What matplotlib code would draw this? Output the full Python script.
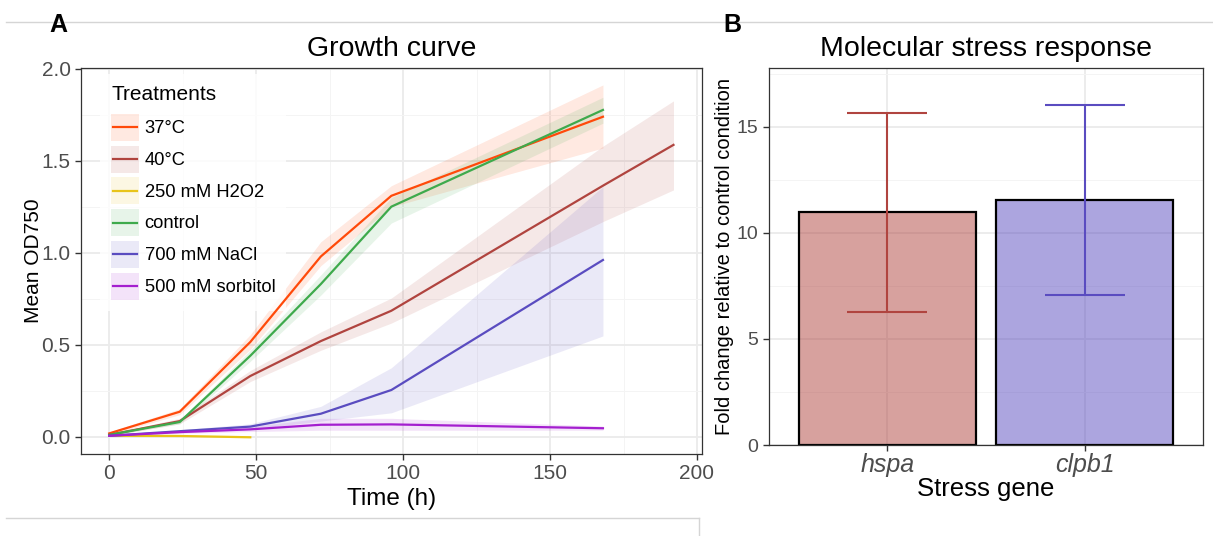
import matplotlib
matplotlib.use('Agg')
import matplotlib.pyplot as plt
from matplotlib.lines import Line2D
from matplotlib.patches import Rectangle
import numpy as np

plt.rcParams['font.family'] = ['Liberation Sans', 'DejaVu Sans']

# growth curve data (mean OD750 and ribbon bounds)
time_main = [0, 24, 48, 72, 96, 168]
time_40 = [0, 24, 48, 72, 96, 168, 192]
time_h2o2 = [0, 24, 48]

od_37 = [0.018, 0.136, 0.515, 0.98, 1.31, 1.74]
od_37_lo = [0.010, 0.120, 0.475, 0.93, 1.25, 1.57]
od_37_hi = [0.026, 0.152, 0.555, 1.06, 1.365, 1.913]

od_40 = [0.010, 0.085, 0.33, 0.52, 0.685, 1.365, 1.587]
od_40_lo = [0.005, 0.070, 0.30, 0.47, 0.618, 1.17, 1.342]
od_40_hi = [0.015, 0.100, 0.36, 0.57, 0.754, 1.58, 1.826]

od_h2o2 = [0.005, 0.004, -0.003]
od_h2o2_lo = [0.002, 0.001, -0.006]
od_h2o2_hi = [0.008, 0.007, 0.000]

od_ctrl = [0.010, 0.08, 0.44, 0.83, 1.251, 1.777]
od_ctrl_lo = [0.005, 0.07, 0.41, 0.77, 1.162, 1.705]
od_ctrl_hi = [0.015, 0.09, 0.47, 0.88, 1.30, 1.846]

od_nacl = [0.005, 0.03, 0.055, 0.125, 0.254, 0.961]
od_nacl_lo = [0.002, 0.022, 0.040, 0.085, 0.13, 0.548]
od_nacl_hi = [0.008, 0.038, 0.070, 0.165, 0.375, 1.36]

od_sorb = [0.005, 0.025, 0.04, 0.065, 0.067, 0.046]
od_sorb_lo = [0.002, 0.018, 0.028, 0.035, 0.035, 0.035]
od_sorb_hi = [0.008, 0.032, 0.055, 0.10, 0.10, 0.058]

treatments = ['37°C', '40°C', '250 mM H2O2', 'control', '700 mM NaCl', '500 mM sorbitol']
colors = ['#FF4A0A', '#B0443F', '#E8C41A', '#3EAA4C', '#5A4CC0', '#A41FCF']

# qPCR data
genes = ['hspa', 'clpb1']
fold_change = [11.0, 11.56]
fold_lo = [6.27, 7.09]
fold_hi = [15.67, 16.02]
gene_colors = ['#B0443F', '#5A4CC0']

W, H = 1213, 536
fig = plt.figure(figsize=(W / 100, H / 100), dpi=100)

grid_major = '#EBEBEB'
grid_minor = '#F4F4F4'
tick_col = '#4D4D4D'


def style_axes(ax):
    for sp in ax.spines.values():
        sp.set_color('#333333')
        sp.set_linewidth(0.9)
    ax.set_axisbelow(True)
    ax.grid(True, which='major', color=grid_major, lw=1.3)
    ax.grid(True, which='minor', color=grid_minor, lw=0.7)
    ax.tick_params(which='major', direction='out', length=4, width=1.0,
                   color='#333333', labelcolor=tick_col)
    ax.tick_params(which='minor', length=0)


class KeyHandler:
    # ggplot-like key: ribbon-coloured square with the line through its middle
    def legend_artist(self, legend, orig_handle, fontsize, handlebox):
        x0, y0 = handlebox.xdescent, handlebox.ydescent
        w, h = handlebox.width, handlebox.height
        c = orig_handle.get_color()
        tr = handlebox.get_transform()
        rect = Rectangle((-x0, -y0), w, h, facecolor=c, alpha=0.12,
                         edgecolor='none', transform=tr)
        line = Line2D([-x0 + 1.5, -x0 + w - 1.5], [-y0 + h / 2] * 2, color=c,
                      lw=1.6, transform=tr)
        handlebox.add_artist(rect)
        handlebox.add_artist(line)
        return rect


# ---- panel A
axA = fig.add_axes([81 / W, 1 - 454 / H, (701.7 - 81) / W, (454 - 68) / H])
style_axes(axA)

series = [
    (time_main, od_37, od_37_lo, od_37_hi),
    (time_40, od_40, od_40_lo, od_40_hi),
    (time_h2o2, od_h2o2, od_h2o2_lo, od_h2o2_hi),
    (time_main, od_ctrl, od_ctrl_lo, od_ctrl_hi),
    (time_main, od_nacl, od_nacl_lo, od_nacl_hi),
    (time_main, od_sorb, od_sorb_lo, od_sorb_hi),
]
handles = []
for (t, m, lo, hi), c, name in zip(series, colors, treatments):
    axA.fill_between(t, lo, hi, color=c, alpha=0.12, lw=0, zorder=1)
    ln, = axA.plot(t, m, color=c, lw=1.6, zorder=3)
    handles.append(ln)

axA.set_xlim(-9.6, 201.6)
axA.set_ylim(-0.094, 2.005)
axA.set_xticks([0, 50, 100, 150, 200])
axA.set_xticks([25, 75, 125, 175], minor=True)
axA.set_yticks([0.0, 0.5, 1.0, 1.5, 2.0])
axA.set_yticks([0.25, 0.75, 1.25, 1.75], minor=True)
axA.set_yticklabels(['0.0', '0.5', '1.0', '1.5', '2.0'])
axA.tick_params(labelsize=15)
axA.set_xlabel('Time (h)', fontsize=17.5, labelpad=3)
axA.set_ylabel('Mean OD750', fontsize=15, labelpad=-1.5)
axA.set_title('Growth curve', fontsize=20.5, pad=9)

leg = axA.legend(handles, treatments, title='Treatments', loc='upper left',
                 bbox_to_anchor=(100 / W, 1 - 74 / H), bbox_transform=fig.transFigure,
                 handler_map={Line2D: KeyHandler()},
                 fontsize=13.2, title_fontsize=15, frameon=True, fancybox=False,
                 handlelength=1.53, handleheight=1.89, labelspacing=0.26,
                 handletextpad=0.3, borderpad=0.6, borderaxespad=0, alignment='left')
leg.get_frame().set_facecolor('white')
leg.get_frame().set_edgecolor('none')
leg.set_zorder(2)
leg._legend_box.sep = 7

# ---- panel B
axB = fig.add_axes([769 / W, 1 - 445 / H, (1203 - 769) / W, (445 - 68) / H])
style_axes(axB)
xpos = np.arange(1, len(genes) + 1)
for x, v, c in zip(xpos, fold_change, gene_colors):
    rgba = matplotlib.colors.to_rgba(c, 0.5)
    axB.bar(x, v, width=0.9, facecolor=rgba, edgecolor='black', lw=1.6, zorder=2)
for x, v, lo, hi, c in zip(xpos, fold_change, fold_lo, fold_hi, gene_colors):
    axB.errorbar(x, v, yerr=[[v - lo], [hi - v]], fmt='none', ecolor=c,
                 elinewidth=1.5, capsize=28.5, capthick=1.5, zorder=3)
axB.set_xlim(0.4, 2.6)
axB.set_ylim(0, 17.78)
axB.set_xticks(xpos)
axB.set_xticklabels(genes, fontstyle='italic', fontsize=18)
axB.set_yticks([0, 5, 10, 15])
axB.set_yticks([2.5, 7.5, 12.5, 17.5], minor=True)
axB.tick_params(axis='y', labelsize=14)
axB.tick_params(axis='x', pad=2)
axB.set_xlabel('Stress gene', fontsize=18.5, labelpad=0)
axB.set_ylabel('Fold change relative to control condition', fontsize=14.5, labelpad=2)
axB.set_title('Molecular stress response', fontsize=20.5, pad=9)

# panel tags
fig.text(58 / W, 1 - 25 / H, 'A', fontsize=18, fontweight='bold', ha='center', va='center')
fig.text(732 / W, 1 - 25 / H, 'B', fontsize=18, fontweight='bold', ha='center', va='center')

# faint layout lines
fig.add_artist(Line2D([6 / W, 1], [1 - 22 / H] * 2, transform=fig.transFigure,
                      color='#D5D5D5', lw=1))
fig.add_artist(Line2D([6 / W, 699 / W], [1 - 518 / H] * 2, transform=fig.transFigure,
                      color='#D5D5D5', lw=1))
fig.add_artist(Line2D([699 / W, 699 / W], [1 - 518 / H, 0], transform=fig.transFigure,
                      color='#D5D5D5', lw=1))

fig.savefig('out.png', dpi=100)
